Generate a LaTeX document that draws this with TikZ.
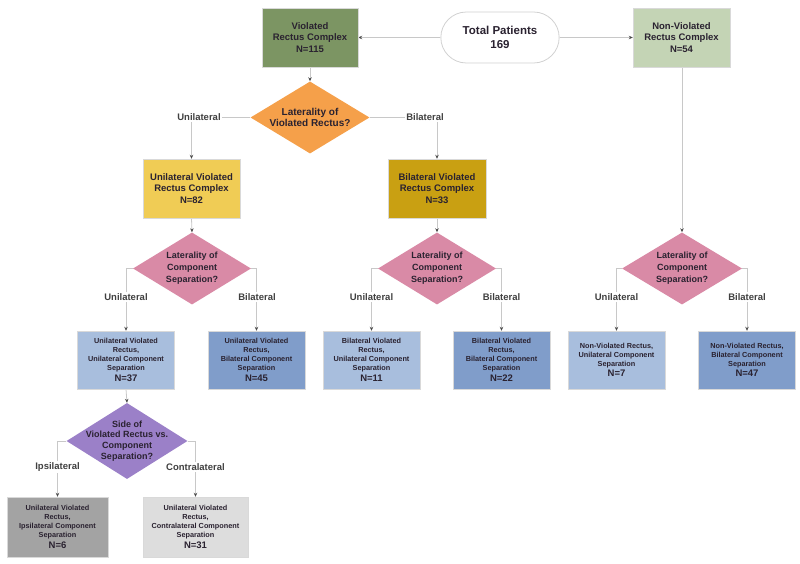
\documentclass[tikz,border=0pt]{standalone}
\usepackage{fontspec}
\setmainfont{Liberation Sans}
\usetikzlibrary{shapes.geometric,shapes.misc,arrows.meta,backgrounds}
\definecolor{txt}{HTML}{2A2230}
\definecolor{lnc}{HTML}{C8C8C8}
\definecolor{vgreen}{HTML}{7C9563}
\definecolor{lgreen}{HTML}{C4D4B5}
\definecolor{orng}{HTML}{F5A04A}
\definecolor{ylw}{HTML}{F0CC55}
\definecolor{gold}{HTML}{C9A012}
\definecolor{pink}{HTML}{D98AA6}
\definecolor{lblue}{HTML}{A8BEDD}
\definecolor{dblue}{HTML}{809DCA}
\definecolor{purp}{HTML}{9B80C8}
\definecolor{dgray}{HTML}{A3A3A3}
\definecolor{lgray}{HTML}{DDDDDD}
\newcommand\Nfont{\fontsize{9.5}{11}\selectfont}
\tikzset{
  every node/.style={text=txt, font=\bfseries},
  topbox/.style={rectangle, draw=white!85!black, line width=0.4pt, minimum width=96pt, minimum height=59pt, align=center, font=\bfseries\fontsize{9.5}{11.7}\selectfont, inner sep=0pt},
  leafbox/.style={rectangle, draw=white!85!black, line width=0.4pt, minimum width=97pt, minimum height=58pt, align=center, font=\bfseries\fontsize{7.3}{9}\selectfont, inner sep=0pt},
  dia/.style={diamond, minimum width=119pt, minimum height=72pt, inner sep=0pt, draw=none},
  diatext/.style={align=center, font=\bfseries\fontsize{10}{11.7}\selectfont, inner sep=0pt},
  diatextsm/.style={align=center, font=\bfseries\fontsize{9}{12}\selectfont, inner sep=0pt},
  lbl/.style={fill=white, inner sep=1.5pt, font=\bfseries\fontsize{9.5}{10}\selectfont, text=black!75},
  conn/.style={draw=lnc, line width=0.8pt},
  arr/.style={conn, -{Stealth[length=4pt,width=3.5pt,color=black!70]}}
}
\begin{document}
\begin{tikzpicture}[x=1pt,y=-1pt]
\useasboundingbox (0,0) rectangle (800,564);
% top row
\node[rounded rectangle, draw=black!18, line width=0.8pt, fill=white, minimum width=125pt, minimum height=51pt, align=center, font=\bfseries\fontsize{11.5}{13.3}\selectfont] (tot) at (500,37.5) {Total Patients\\169};
\node[topbox, fill=vgreen] (vrc) at (310,37.5) {Violated\\Rectus Complex\\N=115};
\node[topbox, fill=lgreen, minimum width=97pt] (nvrc) at (681.5,37.5) {Non-Violated\\Rectus Complex\\N=54};
% first diamond
\node[dia, fill=orng] (d1) at (310,117.5) {};
\node[diatext] (d1t) at (d1.center) {Laterality of\\Violated Rectus?};
% second row boxes
\node[topbox, fill=ylw, minimum width=97pt] (uvrc) at (191.5,188.5) {Unilateral Violated\\Rectus Complex\\N=82};
\node[topbox, fill=gold, minimum width=98pt] (bvrc) at (437,188.5) {Bilateral Violated\\Rectus Complex\\N=33};
% pink diamonds
\node[dia, fill=pink, minimum width=118pt] (d2) at (192,268.5) {};
\node[diatextsm] (d2t) at (d2.center) {Laterality of\\Component\\Separation?};
\node[dia, fill=pink, minimum width=118pt] (d3) at (437,268.5) {};
\node[diatextsm] (d3t) at (d3.center) {Laterality of\\Component\\Separation?};
\node[dia, fill=pink, minimum width=120pt] (d4) at (682,268.5) {};
\node[diatextsm] (d4t) at (d4.center) {Laterality of\\Component\\Separation?};
% third row boxes
\node[leafbox, fill=lblue] (b1) at (126,360) {Unilateral Violated\\Rectus,\\Unilateral Component\\Separation\\[1.5pt]{\Nfont N=37}};
\node[leafbox, fill=dblue] (b2) at (256.5,360) {Unilateral Violated\\Rectus,\\Bilateral Component\\Separation\\[1.5pt]{\Nfont N=45}};
\node[leafbox, fill=lblue] (b3) at (371.5,360) {Bilateral Violated\\Rectus,\\Unilateral Component\\Separation\\[1.5pt]{\Nfont N=11}};
\node[leafbox, fill=dblue] (b4) at (501.5,360) {Bilateral Violated\\Rectus,\\Bilateral Component\\Separation\\[1.5pt]{\Nfont N=22}};
\node[leafbox, fill=lblue] (b5) at (616.5,360) {Non-Violated Rectus,\\Unilateral Component\\Separation\\[1.5pt]{\Nfont N=7}};
\node[leafbox, fill=dblue] (b6) at (747,360) {Non-Violated Rectus,\\Bilateral Component\\Separation\\[1.5pt]{\Nfont N=47}};
% purple diamond
\node[dia, fill=purp, minimum width=121pt, minimum height=76pt] (d5) at (127,441) {};
\node[diatextsm, font=\bfseries\fontsize{9}{10.8}\selectfont] (d5t) at (d5.center) {Side of\\Violated Rectus vs.\\Component\\Separation?};
% bottom boxes
\node[leafbox, fill=dgray, minimum width=101pt, minimum height=60pt] (b7) at (57.5,527) {Unilateral Violated\\Rectus,\\Ipsilateral Component\\Separation\\[1.5pt]{\Nfont N=6}};
\node[leafbox, fill=lgray, minimum width=105pt, minimum height=60pt] (b8) at (195.5,527) {Unilateral Violated\\Rectus,\\Contralateral Component\\Separation\\[1.5pt]{\Nfont N=31}};
% labels
\node[lbl] (lu1) at (199,117.5) {Unilateral};
\node[lbl] (lb1) at (425,117.5) {Bilateral};
\node[lbl] (lu2) at (126,297) {Unilateral};
\node[lbl] (lb2) at (257,297) {Bilateral};
\node[lbl] (lu3) at (371.5,297) {Unilateral};
\node[lbl] (lb3) at (501.5,297) {Bilateral};
\node[lbl] (lu4) at (616.5,297) {Unilateral};
\node[lbl] (lb4) at (747,297) {Bilateral};
\node[lbl] (li5) at (57.5,467) {Ipsilateral};
\node[lbl] (lc5) at (195.5,467) {Contralateral};
% connectors
\begin{scope}[on background layer]
\draw[arr] (tot.west) -- (vrc.east);
\draw[arr] (tot.east) -- (nvrc.west);
\draw[arr] (vrc.south) -- (d1.north);
\draw[arr] (nvrc.south -| d4.north) -- (d4.north);
\draw[arr] (d1.west) -| (uvrc.north);
\draw[arr] (d1.east) -| (bvrc.north);
\draw[arr] (uvrc.south) -- (d2.north);
\draw[arr] (bvrc.south) -- (d3.north);
\draw[arr] (d2.west) -| (b1.north);
\draw[arr] (d2.east) -| (b2.north);
\draw[arr] (d3.west) -| (b3.north);
\draw[arr] (d3.east) -| (b4.north);
\draw[arr] (d4.west) -| (b5.north);
\draw[arr] (d4.east) -| (b6.north);
\draw[arr] (b1.south) -- (d5.north);
\draw[arr] (d5.west) -| (b7.north);
\draw[arr] (d5.east) -| (b8.north);
\end{scope}
\end{tikzpicture}
\end{document}
